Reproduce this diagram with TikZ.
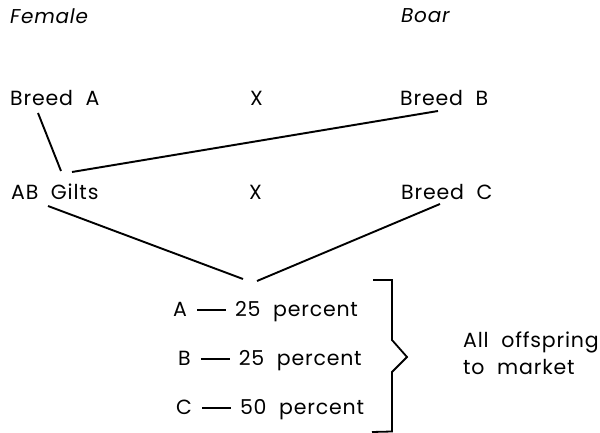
\documentclass[tikz,border=0pt]{standalone}
\usepackage{fontspec}
\setmainfont{Poppins}[LetterSpace=4]
\newcommand{\lngdash}{\hspace{10pt}\rule[5.4pt]{29pt}{1.9pt}\hspace{9pt}}
\begin{document}
\begin{tikzpicture}[x=1pt,y=-1pt,
  lbl/.style={anchor=base west,inner sep=0pt,font=\fontsize{20.5}{22}\selectfont},
  hdr/.style={lbl,font=\fontsize{20}{22}\selectfont\itshape},
  link/.style={line width=1.9pt},
  brace/.style={line width=1.8pt,line join=miter}]
\useasboundingbox (0,0) rectangle (600,433);
\node[hdr] (female) at (10,24) {Female};
\node[hdr] (boar) at (401,23) {Boar};
\node[lbl] (breedA) at (10,106) {Breed~~A};
\node[lbl] (x1) at (250,106) {X};
\node[lbl] (breedB) at (400,106) {Breed~~B};
\node[lbl] (gilts) at (11,200) {AB~~Gilts};
\node[lbl] (x2) at (249,200) {X};
\node[lbl] (breedC) at (401,200) {Breed~~C};
\node[lbl] (rowA) at (173,316) {A\lngdash 25~~percent};
\node[lbl] (rowB) at (178,365) {B\lngdash 25~~percent};
\node[lbl] (rowC) at (176,414) {C\lngdash 50~~percent};
\node[lbl] (all) at (463,347) {All~~offspring};
\node[lbl] (mkt) at (463,374) {to~~market};
\coordinate (a1) at (38,113);
\coordinate (a2) at (61,171);
\coordinate (g1) at (72,172);
\coordinate (b1) at (438,111);
\coordinate (g2) at (48,206);
\coordinate (o1) at (243,279);
\coordinate (o2) at (257,281);
\coordinate (c1) at (440,204);
\draw[link] (a1) -- (a2);
\draw[link] (g1) -- (b1);
\draw[link] (g2) -- (o1);
\draw[link] (o2) -- (c1);
\coordinate (bt) at (373,280);
\coordinate (bb) at (372,432);
\coordinate (tip) at (407,357);
\draw[brace] (bt) -- (392,280) -- (392,340) -- (tip) -- (392,372) -- (392,431.5) -- (bb);
\end{tikzpicture}
\end{document}
